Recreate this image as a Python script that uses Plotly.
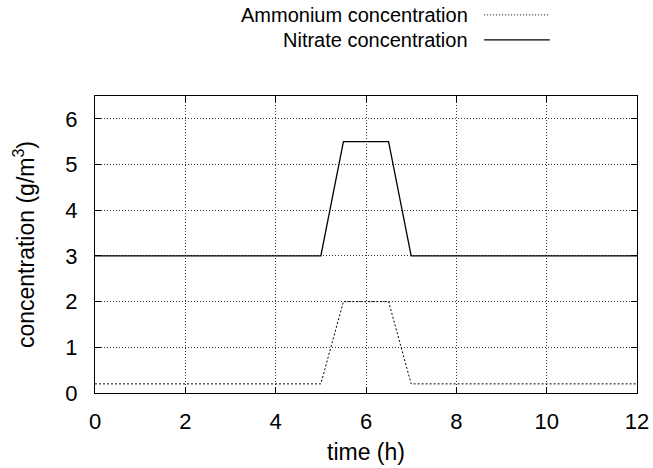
import plotly.graph_objects as go

# Concentration profiles over time (h)
time_h = [0, 5, 5.5, 6.5, 7, 12]
ammonium = [0.2, 0.2, 2, 2, 0.2, 0.2]
nitrate = [3, 3, 5.5, 5.5, 3, 3]

x_ticks = [0, 2, 4, 6, 8, 10, 12]
y_ticks = [0, 1, 2, 3, 4, 5, 6]

legend_labels = ["Ammonium concentration", "Nitrate concentration"]

FONT = "Liberation Sans, Arial, sans-serif"
LEGEND_FS = 20
TICK_FS = 22
TITLE_FS = 23

fig = go.Figure()
fig.add_trace(go.Scatter(x=time_h, y=ammonium, mode="lines",
                         line=dict(color="black", width=1, dash="2px,2px"),
                         name=legend_labels[0], showlegend=False))
fig.add_trace(go.Scatter(x=time_h, y=nitrate, mode="lines",
                         line=dict(color="black", width=1.3),
                         name=legend_labels[1], showlegend=False))

axis_common = dict(
    showline=True, linecolor="black", linewidth=1, mirror="ticks",
    ticks="inside", ticklen=6, tickcolor="black", tickwidth=1,
    showgrid=True, gridcolor="rgba(0,0,0,0.8)", gridwidth=1, griddash="1px,2px",
    zeroline=False, automargin=False,
    tickfont=dict(size=TICK_FS, color="black", family=FONT),
)

fig.update_xaxes(range=[0, 12], tickvals=x_ticks, ticklabelstandoff=9,
                 title=dict(text="time (h)", font=dict(size=TITLE_FS, family=FONT, color="black"), standoff=10),
                 **axis_common)
fig.update_yaxes(range=[0, 6.5], tickvals=y_ticks, ticklabelstandoff=12,
                 title=dict(text="concentration (g/m<sup>3</sup>)", font=dict(size=TITLE_FS, family=FONT, color="black"), standoff=24),
                 **axis_common)

# Legend drawn gnuplot-style: right-aligned label with the line sample to its right
legend_y = [1.273, 1.189]
legend_dash = ["1px,2px", "solid"]
legend_width = [1, 1.3]
for label, yy, dash, w in zip(legend_labels, legend_y, legend_dash, legend_width):
    fig.add_annotation(x=0.692, y=yy, xref="paper", yref="paper", text=label,
                       showarrow=False, xanchor="right", yanchor="middle",
                       font=dict(size=LEGEND_FS, family=FONT, color="black"))
    fig.add_shape(type="line", xref="paper", yref="paper",
                  x0=0.718, x1=0.839, y0=yy, y1=yy,
                  line=dict(color="black", width=w, dash=dash))

fig.update_layout(
    width=653, height=468,
    margin=dict(l=95, r=16, t=96, b=75),
    paper_bgcolor="white", plot_bgcolor="white",
    font=dict(family=FONT, color="black"),
)

fig.write_html("out.html")
